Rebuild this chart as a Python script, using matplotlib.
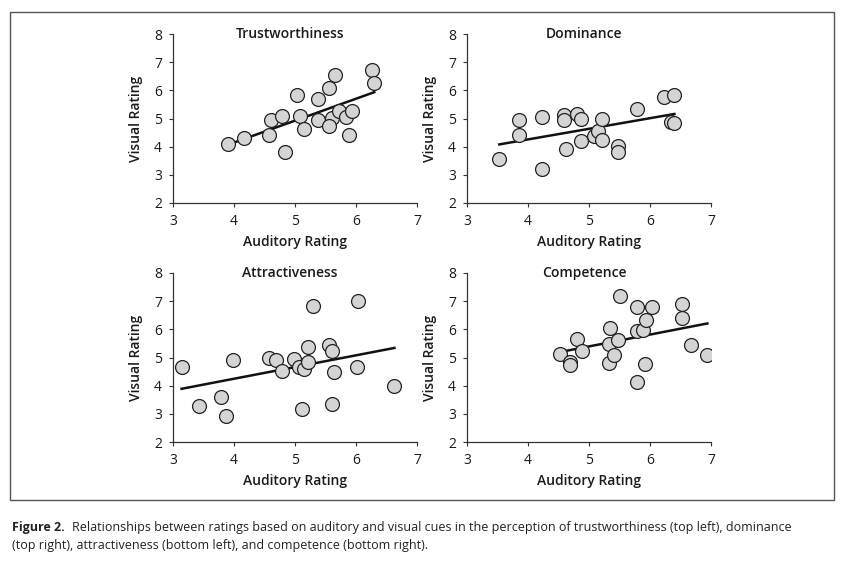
import numpy as np
import matplotlib.pyplot as plt
from matplotlib.patches import Rectangle

plt.rcParams['font.family'] = ['Open Sans', 'DejaVu Sans']

# datos (auditory, visual)
trust_x = [3.90, 4.17, 4.57, 4.60, 4.78, 4.84, 5.03, 5.08, 5.14, 5.38, 5.38,
           5.56, 5.66, 5.61, 5.56, 5.72, 5.84, 5.94, 5.89, 6.27, 6.30]
trust_y = [4.10, 4.30, 4.42, 4.95, 5.09, 3.81, 5.84, 5.09, 4.63, 4.95, 5.70,
           6.07, 6.55, 5.01, 4.72, 5.28, 5.07, 5.27, 4.42, 6.72, 6.25]

dom_x = [3.53, 3.86, 3.86, 4.23, 4.23, 4.59, 4.59, 4.62, 4.81, 4.87, 4.87,
         5.08, 5.14, 5.22, 5.22, 5.48, 5.48, 5.78, 6.23, 6.39, 6.35, 6.40]
dom_y = [3.57, 4.93, 4.42, 5.07, 3.20, 5.11, 4.95, 3.93, 5.17, 4.99, 4.21,
         4.39, 4.57, 4.99, 4.24, 4.04, 3.81, 5.33, 5.78, 5.84, 4.89, 4.83]

attr_x = [3.14, 3.42, 3.78, 3.87, 3.99, 4.58, 4.69, 4.78, 4.99, 5.06, 5.14,
          5.21, 5.21, 5.11, 5.29, 5.56, 5.60, 5.64, 5.60, 6.02, 6.03, 6.63]
attr_y = [4.66, 3.27, 3.59, 2.91, 4.92, 4.98, 4.92, 4.51, 4.96, 4.66, 4.59,
          4.83, 5.36, 3.18, 6.82, 5.43, 5.22, 4.47, 3.36, 4.65, 6.99, 4.00]

comp_x = [4.53, 4.69, 4.69, 4.81, 4.89, 5.33, 5.33, 5.35, 5.41, 5.48, 5.51,
          5.78, 5.78, 5.78, 5.88, 5.93, 5.91, 6.03, 6.52, 6.52, 6.67, 6.94]
comp_y = [5.14, 4.84, 4.75, 5.67, 5.22, 4.82, 5.49, 6.04, 5.10, 5.61, 7.17,
          6.79, 5.93, 4.13, 5.99, 6.32, 4.78, 6.79, 6.91, 6.41, 5.46, 5.08]

titulos = ['Trustworthiness', 'Dominance', 'Attractiveness', 'Competence']
datos = [(trust_x, trust_y), (dom_x, dom_y), (attr_x, attr_y), (comp_x, comp_y)]

W, H = 848, 565
fig = plt.figure(figsize=(W / 100, H / 100), dpi=100)

# marco exterior
fig.patches.append(Rectangle((10 / W, 1 - 500 / H), 824 / W, 488 / H,
                             transform=fig.transFigure, fill=False,
                             edgecolor='#555555', linewidth=1.0))

posiciones = [(173, 34), (467, 34), (173, 273), (467, 273)]
gris = '#333333'
texto = '#1a1a1a'

for (px, py), titulo, (xs, ys) in zip(posiciones, titulos, datos):
    ax = fig.add_axes([px / W, 1 - (py + 169) / H, 244 / W, 169 / H])
    xs = np.array(xs)
    ys = np.array(ys)
    ax.scatter(xs, ys, s=100, facecolor='#d4d4d4', edgecolor='#222222',
               linewidth=0.9, zorder=3)
    # recta de regresion
    m, b = np.polyfit(xs, ys, 1)
    xl = np.array([xs.min(), xs.max()])
    ax.plot(xl, m * xl + b, color='#111111', linewidth=1.8, zorder=2)
    ax.set_xlim(3, 7)
    ax.set_ylim(2, 8)
    ax.set_xticks([3, 4, 5, 6, 7])
    ax.set_yticks([2, 3, 4, 5, 6, 7, 8])
    for s in ['top', 'right']:
        ax.spines[s].set_visible(False)
    for s in ['left', 'bottom']:
        ax.spines[s].set_color(gris)
        ax.spines[s].set_linewidth(0.9)
    ax.tick_params(direction='out', length=3, width=0.8, colors=gris,
                   labelsize=10, labelcolor=texto, pad=5)
    ax.set_xlabel('Auditory Rating', fontsize=10, fontweight='semibold',
                  color=texto, labelpad=4)
    ax.set_ylabel('Visual Rating', fontsize=10, fontweight='semibold',
                  color=texto, labelpad=8)
    ax.text(0.48, 1.0, titulo, transform=ax.transAxes, ha='center', va='center',
            fontsize=10, fontweight='semibold', color=texto)

fig.text(12 / W, 1 - 527 / H, 'Figure 2.', fontsize=9, fontweight='bold',
         va='center', ha='left', color='#222222')
fig.text(72 / W, 1 - 527 / H,
         'Relationships between ratings based on auditory and visual cues in the '
         'perception of trustworthiness (top left), dominance',
         fontsize=9, va='center', ha='left', color='#222222')
fig.text(12 / W, 1 - 545 / H,
         '(top right), attractiveness (bottom left), and competence (bottom right).',
         fontsize=9, va='center', ha='left', color='#222222')

fig.savefig('out.png', dpi=100)
